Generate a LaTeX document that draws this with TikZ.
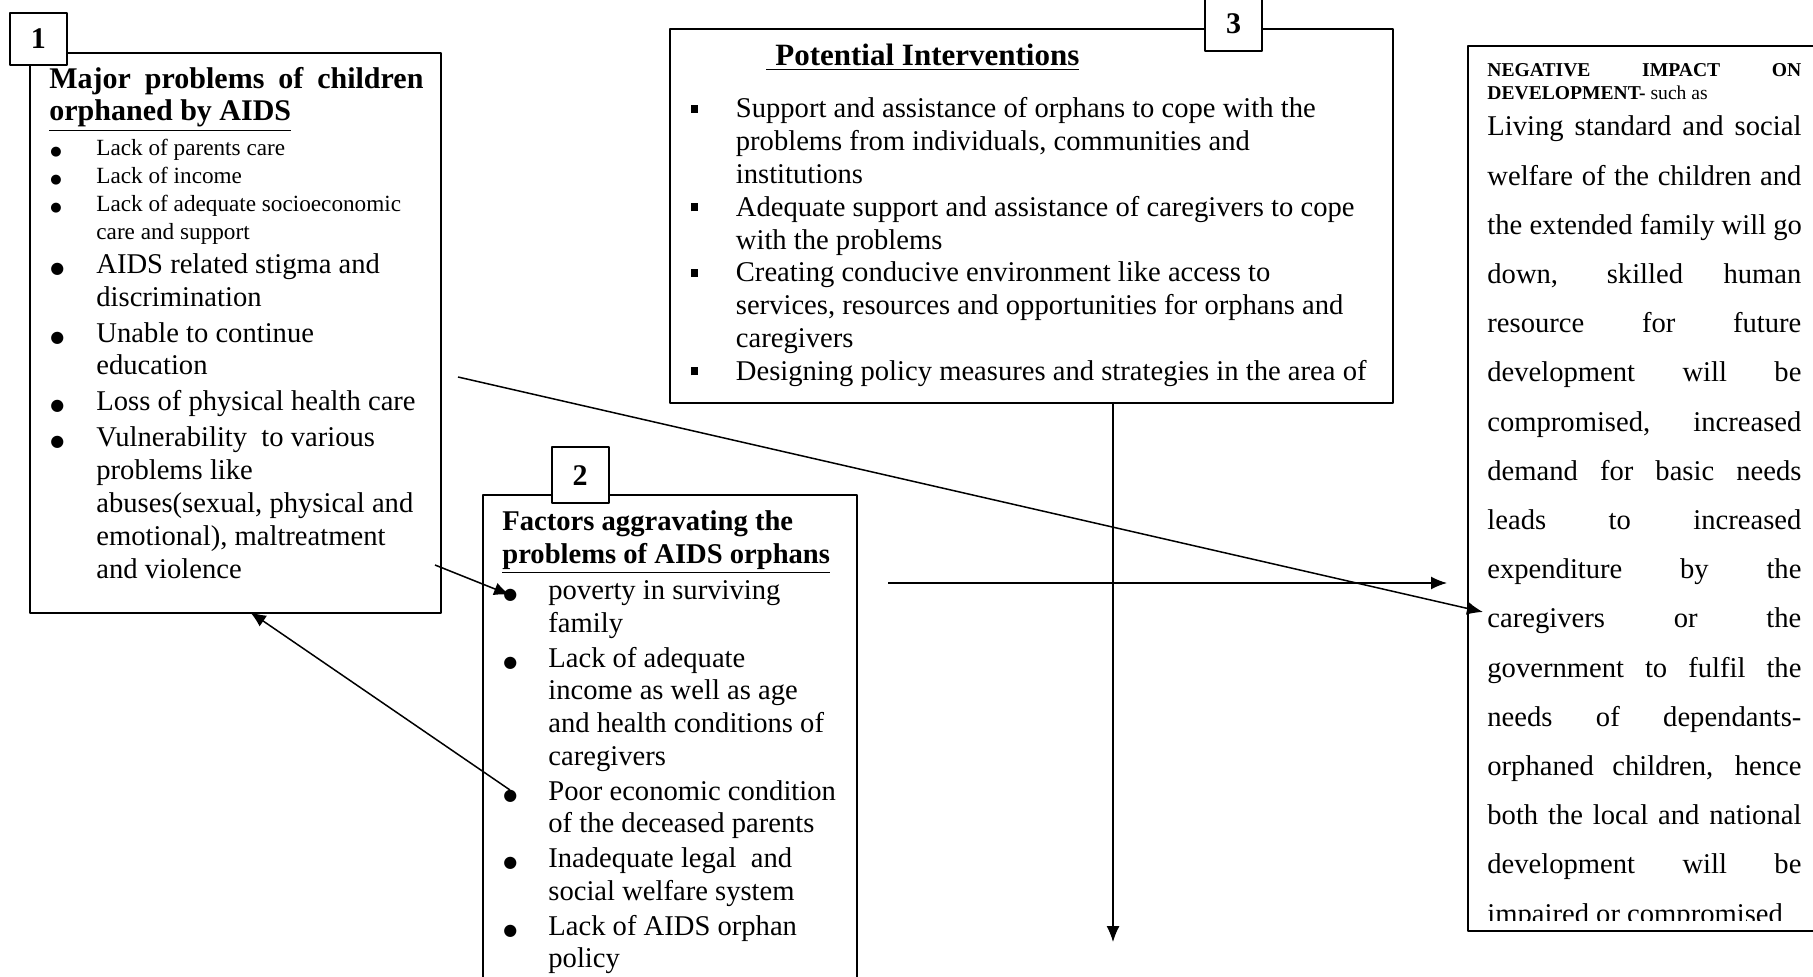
\documentclass[tikz,border=0pt]{standalone}
\usepackage{fontspec}
\setmainfont{Liberation Serif}
\newfontfamily\symfont{DejaVu Sans}
\usetikzlibrary{arrows.meta}

\newcommand{\natsp}{\spaceskip=0pt\xspaceskip=0pt\relax}
\newcommand{\bul}[2]{\makebox[#1][l]{\hspace{0.5pt}{\symfont\fontsize{#2}{#2}\selectfont ●}}}
\newcommand{\sqb}{\makebox[22.25pt][l]{\rule[2.5pt]{3.5pt}{4pt}}}
\newcommand{\jline}[1]{\leavevmode\hbox to 157pt{\spaceskip=.25em plus 1fil\relax #1}}

\tikzset{
  panel/.style={draw, line width=1pt, inner sep=0pt, anchor=north west},
  numbox/.style={draw, line width=1pt, fill=white, inner sep=0pt, minimum width=28.5pt, minimum height=28pt, font=\bfseries\fontsize{15}{18}\selectfont},
  txt/.style={inner sep=0pt, anchor=base west, text width=#1},
  arr/.style={-{Latex[length=8pt,width=6.5pt]}, line width=0.75pt},
}

\begin{document}
\begin{tikzpicture}[x=0.5pt, y=-0.5pt, line join=round]
\useasboundingbox (0,0) rectangle (1813,977);
\clip (0,0) rectangle (1813,977);

% frames
\node[panel, minimum width=205.5pt, minimum height=280pt] (probbox) at (29,52) {};
\node[panel, minimum width=187pt, minimum height=260pt] (factbox) at (482,494) {};
\node[panel, minimum width=361.75pt, minimum height=187pt] (intbox) at (668.5,28) {};
\node[panel, minimum width=200pt, minimum height=442.5pt] (impbox) at (1467,45) {};

% number tags
\node[numbox, minimum height=26pt] (n1) at (38.5,39) {1};
\node[numbox] (n2) at (580,475.5) {2};
\node[numbox] (n3) at (1233.5,23.5) {3};

% box 1
\node[txt=190pt, font=\bfseries\fontsize{15}{16}\selectfont] (probtxt) at (49,89)
  {\natsp\leavevmode\hbox to 187pt{Major\hfill problems\hfill of\hfill children}\\\underline{orphaned by AIDS}\par
   \vspace{3.6pt}
   {\mdseries\fontsize{11.6}{13.9}\selectfont
   \bul{23.5pt}{6.5}Lack of parents care\\
   \bul{23.5pt}{6.5}Lack of income\\
   \bul{23.5pt}{6.5}Lack of adequate socioeconomic\\
   \hspace*{23.5pt}care and support\par}
   \vspace{0.6pt}
   {\mdseries\fontsize{14.3}{16.4}\selectfont
   \bul{23.5pt}{8}AIDS related stigma and\\
   \hspace*{23.5pt}discrimination\\[1.6pt]
   \bul{23.5pt}{8}Unable to continue\\
   \hspace*{23.5pt}education\\[1.6pt]
   \bul{23.5pt}{8}Loss of physical health care\\[1.6pt]
   \bul{23.5pt}{8}Vulnerability\ \ to various\\
   \hspace*{23.5pt}problems like\\
   \hspace*{23.5pt}abuses(sexual, physical and\\
   \hspace*{23.5pt}emotional), maltreatment\\
   \hspace*{23.5pt}and violence\par}};

% box 2
\node[txt=180pt, font=\fontsize{14.3}{16.3}\selectfont] (facttxt) at (502,531)
  {\natsp{\bfseries Factors aggravating the\\\underline{problems of AIDS orphans}}\\[1.7pt]
   \bul{23pt}{8}poverty in surviving\\
   \hspace*{23pt}family\\[1.2pt]
   \bul{23pt}{8}Lack of adequate\\
   \hspace*{23pt}income as well as age\\
   \hspace*{23pt}and health conditions of\\
   \hspace*{23pt}caregivers\\[1.2pt]
   \bul{23pt}{8}Poor economic condition\\
   \hspace*{23pt}of the deceased parents\\[1.2pt]
   \bul{23pt}{8}Inadequate legal\ \ and\\
   \hspace*{23pt}social welfare system\\[1.2pt]
   \bul{23pt}{8}Lack of AIDS orphan\\
   \hspace*{23pt}policy};

% box 3
\node[inner sep=0pt, anchor=base west, font=\bfseries\fontsize{15.5}{18}\selectfont] (intttl) at (766,66)
  {\underline{\hspace*{4.5pt}Potential Interventions}};
\node[txt=348pt, font=\fontsize{14.3}{16.4}\selectfont] (inttxt) at (691,118)
  {\natsp\sqb Support and assistance of orphans to cope with the\\
   \hspace*{22.25pt}problems from individuals, communities and\\
   \hspace*{22.25pt}institutions\\
   \sqb Adequate support and assistance of caregivers to cope\\
   \hspace*{22.25pt}with the problems\\
   \sqb Creating conducive environment like access to\\
   \hspace*{22.25pt}services, resources and opportunities for orphans and\\
   \hspace*{22.25pt}caregivers\\
   \sqb Designing policy measures and strategies in the area of};

% box 4
\node[txt=160pt, font=\bfseries\fontsize{9.8}{11.25}\selectfont] (impttl) at (1487,77)
  {\natsp\leavevmode\hbox to 157pt{NEGATIVE\hfill IMPACT\hfill ON}\\DEVELOPMENT- {\mdseries such as}};
\begin{scope}
\clip (1467,45) rectangle (1813,920);
\node[txt=160pt, font=\fontsize{14.3}{24.6}\selectfont] (imptxt) at (1487,136)
  {\natsp\jline{Living standard and social}\\
   \jline{welfare of the children and}\\
   \jline{the extended family will go}\\
   \jline{down, skilled human}\\
   \jline{resource for future}\\
   \jline{development will be}\\
   \jline{compromised, increased}\\
   \jline{demand for basic needs}\\
   \jline{leads to increased}\\
   \jline{expenditure by the}\\
   \jline{caregivers or the}\\
   \jline{government to fulfil the}\\
   \jline{needs of dependants-}\\
   \jline{orphaned children, hence}\\
   \jline{both the local and national}\\
   \jline{development will be}\\
   impaired or compromised};
\end{scope}

% connectors
\coordinate (d1) at (458,377);
\coordinate (d2) at (1483,612);
\coordinate (h1) at (888,583);
\coordinate (h2) at (1447,583);
\coordinate (v1) at (1113,402);
\coordinate (v2) at (1113,942);
\coordinate (b1) at (435,565);
\coordinate (b2) at (510,595);
\coordinate (u1) at (510,790);
\coordinate (u2) at (250,612);
\draw[arr] (d1) -- (d2);
\draw[arr] (h1) -- (h2);
\draw[arr, line width=0.6pt] (v1) -- (v2);
\draw[arr] (b1) -- (b2);
\draw[arr] (u1) -- (u2);
\end{tikzpicture}
\end{document}
